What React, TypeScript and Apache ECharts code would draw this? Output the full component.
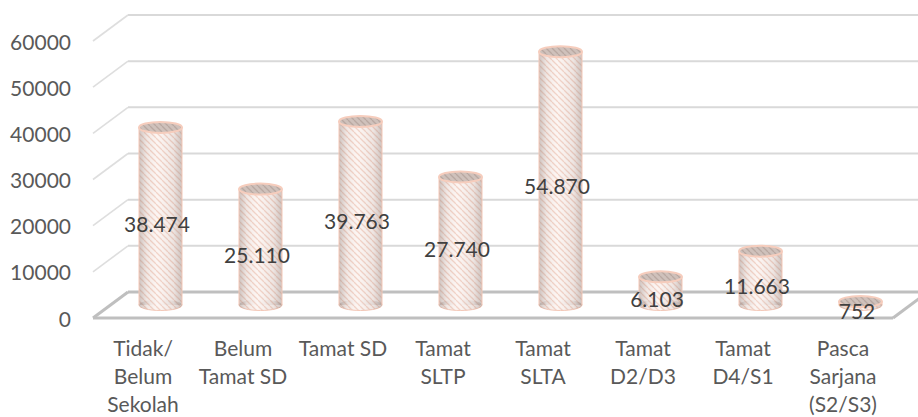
import React, { useEffect, useRef } from 'react';
import * as echarts from 'echarts';

// ---- data ----
const categories = [
  'Tidak/\nBelum\nSekolah',
  'Belum\nTamat SD',
  'Tamat SD',
  'Tamat\nSLTP',
  'Tamat\nSLTA',
  'Tamat\nD2/D3',
  'Tamat\nD4/S1',
  'Pasca\nSarjana\n(S2/S3)',
];
const values = [38474, 25110, 39763, 27740, 54870, 6103, 11663, 752];
const yTicks = [0, 10000, 20000, 30000, 40000, 50000, 60000];
const yMin = 0;
const yMax = 60000;
const yStep = 10000;

// ---- styling ----
const DX = 35; // depth offset of the 3D box (px)
const DY = -26;
const FONT_FAMILY = 'Lato, "Open Sans", sans-serif';
const FONT_SIZE = 21;

function fmt(v: number): string {
  return String(v).replace(/\B(?=(\d{3})+(?!\d))/g, '.');
}

function makePattern(bg: string, stripe: string, size: number, lw: number) {
  const c = document.createElement('canvas');
  c.width = size;
  c.height = size;
  const ctx = c.getContext('2d')!;
  ctx.fillStyle = bg;
  ctx.fillRect(0, 0, size, size);
  ctx.strokeStyle = stripe;
  ctx.lineWidth = lw;
  for (const k of [-size, 0, size]) {
    ctx.beginPath();
    ctx.moveTo(k, 0);
    ctx.lineTo(k + size, size);
    ctx.stroke();
  }
  return c;
}

export default function App() {
  const ref = useRef<HTMLDivElement>(null);

  useEffect(() => {
    if (!ref.current) return;
    const chart = echarts.init(ref.current, null, { renderer: 'svg' });

    const bodyCanvas = makePattern('#fcf4f1', '#f1d0c4', 6, 1.3);
    const topCanvas = makePattern('#cfc1bb', '#b9a8a1', 6, 1.3);
    const bodyPattern: any = { image: bodyCanvas, repeat: 'repeat', imageWidth: 6, imageHeight: 6 };
    const topPattern: any = { image: topCanvas, repeat: 'repeat', imageWidth: 6, imageHeight: 6 };

    const shade = () =>
      new echarts.graphic.LinearGradient(0, 0, 1, 0, [
        { offset: 0, color: 'rgba(150,135,130,0.45)' },
        { offset: 0.18, color: 'rgba(150,135,130,0.12)' },
        { offset: 0.42, color: 'rgba(255,255,255,0.08)' },
        { offset: 0.8, color: 'rgba(150,135,130,0.14)' },
        { offset: 1, color: 'rgba(150,135,130,0.45)' },
      ]);

    const frameItem = (params: any, api: any) => {
      const v = api.value(1);
      const band = api.size([1, 0])[0];
      const p0 = api.coord([0, v]);
      const p1 = api.coord([categories.length - 1, v]);
      const xl = p0[0] - band / 2;
      const xr = p1[0] + band / 2;
      const y = p0[1];
      const isBase = v === yMin;
      const col = isBase ? '#bfbfbf' : '#d9d9d9';
      const lw = isBase ? 3 : 2;
      const children: any[] = [
        { type: 'line', shape: { x1: xl, y1: y, x2: xl + DX, y2: y + DY }, style: { stroke: isBase ? col : '#dedede', lineWidth: isBase ? 3 : 1.6 } },
        { type: 'line', shape: { x1: xl + DX, y1: y + DY, x2: xr + DX, y2: y + DY }, style: { stroke: col, lineWidth: lw } },
      ];
      if (isBase) {
        children.push({ type: 'line', shape: { x1: xl, y1: y, x2: xr, y2: y }, style: { stroke: col, lineWidth: 3 } });
        children.push({ type: 'line', shape: { x1: xr, y1: y, x2: xr + DX, y2: y + DY }, style: { stroke: col, lineWidth: 3 } });
      }
      return { type: 'group', children };
    };

    const barItem = (params: any, api: any) => {
      const i = api.value(0);
      const v = api.value(1);
      const band = api.size([1, 0])[0];
      const base = api.coord([i, 0]);
      const top = api.coord([i, v]);
      const cx = base[0] + DX / 2;
      const y0 = base[1] + DY / 2;
      const yt = top[1] + DY / 2;
      const rx = band * 0.215;
      const ry = 5.5;
      const h = Math.max(0, y0 - yt);
      return {
        type: 'group',
        children: [
          { type: 'ellipse', shape: { cx, cy: y0, rx, ry }, style: { fill: bodyPattern, stroke: '#f4c7b6', lineWidth: 1 } },
          { type: 'rect', shape: { x: cx - rx, y: yt, width: 2 * rx, height: h }, style: { fill: bodyPattern } },
          { type: 'ellipse', shape: { cx, cy: y0, rx, ry }, style: { fill: shade() } },
          { type: 'rect', shape: { x: cx - rx, y: yt, width: 2 * rx, height: h }, style: { fill: shade() } },
          { type: 'line', shape: { x1: cx - rx, y1: yt, x2: cx - rx, y2: y0 }, style: { stroke: '#f4c7b6', lineWidth: 1 } },
          { type: 'line', shape: { x1: cx + rx, y1: yt, x2: cx + rx, y2: y0 }, style: { stroke: '#f4c7b6', lineWidth: 1 } },
          { type: 'ellipse', shape: { cx, cy: yt, rx, ry }, style: { fill: topPattern, stroke: '#f6cdbd', lineWidth: 2 } },
        ],
      };
    };

    const labelItem = (params: any, api: any) => {
      const i = api.value(0);
      const v = api.value(1);
      const p = api.coord([i, v / 2]);
      return {
        type: 'text',
        x: p[0] + 14,
        y: p[1] - 5.5,
        style: {
          text: fmt(v),
          fill: '#404040',
          font: `${FONT_SIZE}px ${FONT_FAMILY}`,
          align: 'center',
          verticalAlign: 'middle',
        },
      };
    };

    const barData = values.map((v, i) => [i, v]);

    chart.setOption({
      animation: false,
      backgroundColor: '#ffffff',
      grid: { left: 93, right: 25, top: 41, bottom: 99, containLabel: false, outerBoundsMode: 'none' },
      xAxis: {
        type: 'category',
        data: categories,
        axisLine: { show: false },
        axisTick: { show: false },
        splitLine: { show: false },
        axisLabel: {
          interval: 0,
          color: '#595959',
          fontFamily: FONT_FAMILY,
          fontSize: FONT_SIZE,
          lineHeight: 28,
          margin: 15,
        },
      },
      yAxis: {
        type: 'value',
        min: yMin,
        max: yMax,
        interval: yStep,
        axisLine: { show: false },
        axisTick: { show: false },
        splitLine: { show: false },
        axisLabel: {
          color: '#595959',
          fontFamily: FONT_FAMILY,
          fontSize: FONT_SIZE,
          margin: 22,
          formatter: (v: number) => String(v),
        },
      },
      series: [
        {
          type: 'custom',
          renderItem: frameItem,
          data: yTicks.map((t) => [0, t]),
          silent: true,
          z: 1,
          clip: false,
        },
        {
          type: 'custom',
          renderItem: barItem,
          data: barData,
          silent: true,
          z: 2,
          clip: false,
        },
        {
          type: 'custom',
          renderItem: labelItem,
          data: barData,
          silent: true,
          z: 3,
          clip: false,
        },
      ],
    });

    return () => chart.dispose();
  }, []);

  return (
    <div
      ref={ref}
      style={{ position: 'fixed', left: 0, top: 0, width: 918, height: 417, background: '#fff' }}
    />
  );
}
